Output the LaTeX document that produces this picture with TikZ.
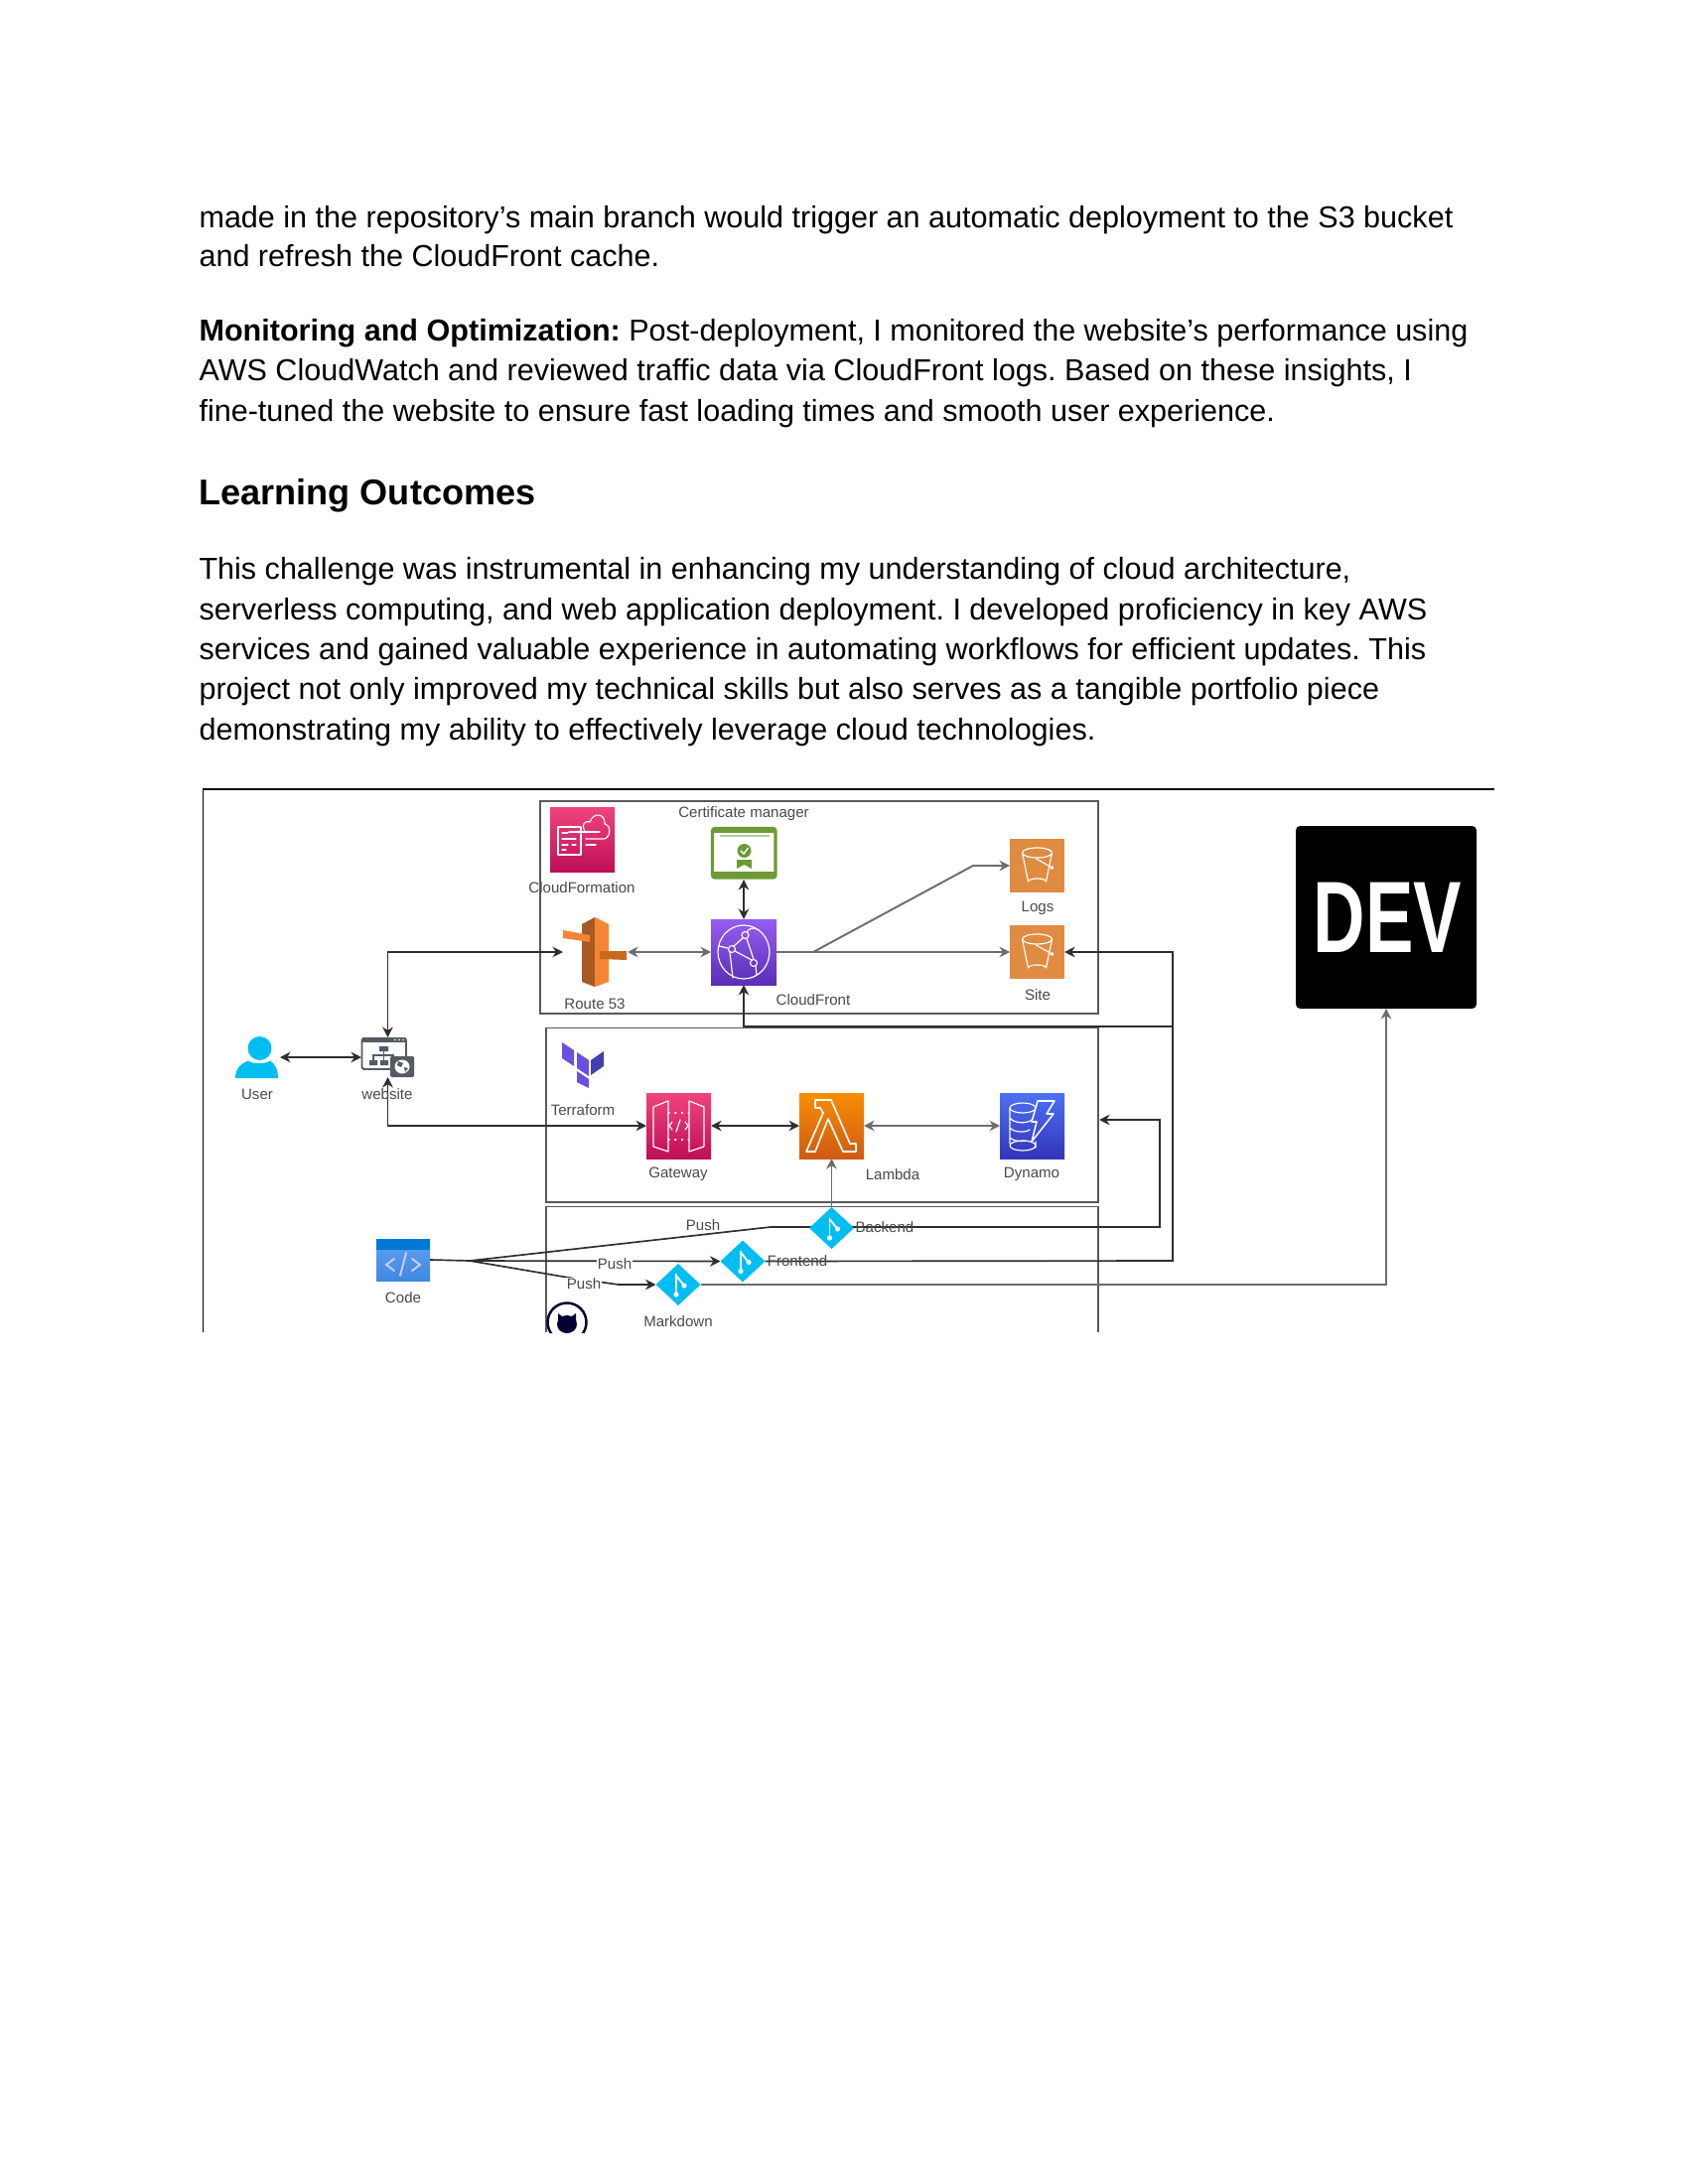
\documentclass[tikz,border=0pt]{standalone}
\usepackage{fontspec}
\usepackage{graphicx}
\setmainfont{Liberation Sans}
\frenchspacing
\usetikzlibrary{arrows.meta,shapes.geometric,calc}
\pgfdeclarelayer{paper}
\pgfdeclarelayer{bg}
\pgfsetlayers{paper,bg,main}
\def\pxu{0.005in}
\definecolor{pinkA}{HTML}{F0447C}\definecolor{pinkB}{HTML}{BE0F57}
\definecolor{orangeA}{HTML}{F78E04}\definecolor{orangeB}{HTML}{CF5A14}
\definecolor{blueA}{HTML}{4D72F3}\definecolor{blueB}{HTML}{3334B9}
\definecolor{purpA}{HTML}{945DF2}\definecolor{purpB}{HTML}{5A30B5}
\definecolor{bucketc}{HTML}{DF8C42}
\definecolor{gitc}{HTML}{00BEF0}
\definecolor{certc}{HTML}{6D9A35}
\definecolor{tfA}{HTML}{6A4FE0}\definecolor{tfB}{HTML}{4040B2}
\definecolor{labelc}{HTML}{4A4A4A}
\definecolor{linec}{HTML}{2E2E2E}
\definecolor{webc}{HTML}{545B64}
\definecolor{codeA}{HTML}{5EA0EF}\definecolor{codeB}{HTML}{3F88E0}\definecolor{codeT}{HTML}{0078D4}
\definecolor{r53D}{HTML}{A65A24}\definecolor{r53L}{HTML}{F58534}\definecolor{r53M}{HTML}{C8691F}
\tikzset{
 x=\pxu,y=-\pxu,
 >={Stealth[length=3.8pt,width=3.8pt]},
 bodytext/.style={anchor=base west,inner sep=0,font=\fontsize{11.05}{13}\selectfont,text=black},
 headtext/.style={anchor=base west,inner sep=0,font=\fontsize{13.05}{16}\selectfont\bfseries,text=black},
 lab/.style={inner sep=0,font=\fontsize{5.45}{7}\selectfont,text=labelc},
 conn/.style={draw=linec,line width=0.6pt},
 thinconn/.style={draw=linec!70,line width=0.7pt},
 boxline/.style={draw=black!65,line width=0.65pt},
 wl/.style={draw=white,line width=0.42pt,line join=round,line cap=round},
 gitnode/.style={shape=diamond,fill=gitc,inner sep=0,outer sep=0,minimum width=45*\pxu,minimum height=42*\pxu},
}
\newcommand\iconbox[6]{\pgfmathsetmacro\cxv{(#2+#4)/2}\pgfmathsetmacro\cyv{(#3+#5)/2}\pgfmathsetmacro\wv{#4-#2}\pgfmathsetmacro\hv{#5-#3}\node[inner sep=0,outer sep=0,minimum width=\wv*\pxu,minimum height=\hv*\pxu,#6](#1) at (\cxv,\cyv){};}
\newcommand\bucketglyph[2]{\begin{scope}[shift={(#1,#2)}]
 \draw[wl,fill=none] (0,-13) ellipse (15 and 5);
 \draw[wl] (-15,-13) -- (-9,16) arc[start angle=180,end angle=360,x radius=9,y radius=3] -- (15,-13);
 \draw[wl] (-1,-7) -- (15,2) circle (1.2);
\end{scope}}
\newcommand\gitglyph[2]{\begin{scope}[shift={(#1,#2)}]
 \draw[draw=white,line width=0.7pt] (-2,-11) -- (-2,10);
 \draw[draw=white,line width=0.7pt] (-2,-9) -- (6,1);
 \fill[white] (-2,10) circle (2.6) (6,1) circle (2.6) (-2,-2) circle (1.2);
\end{scope}}
\begin{document}
\begin{tikzpicture}
\useasboundingbox (0,0) rectangle (1700,2200);
\begin{pgfonlayer}{paper}
\fill[white] (0,0) rectangle (1700,2200);
\end{pgfonlayer}
% ---------- text
\node[bodytext] (t1) at (200,230) {made in the repository’s main branch would trigger an automatic deployment to the S3 bucket};
\node[bodytext] (t2) at (200,269) {and refresh the CloudFront cache.};
\node[bodytext] (t3) at (200,344) {\textbf{Monitoring and Optimization:} Post-deployment, I monitored the website’s performance using};
\node[bodytext] (t4) at (200,384) {AWS CloudWatch and reviewed traffic data via CloudFront logs. Based on these insights, I};
\node[bodytext] (t5) at (200,425) {fine-tuned the website to ensure fast loading times and smooth user experience.};
\node[headtext] (h1) at (200,509) {Learning Outcomes};
\node[bodytext] (t6) at (200,584) {This challenge was instrumental in enhancing my understanding of cloud architecture,};
\node[bodytext] (t7) at (200,625) {serverless computing, and web application deployment. I developed proficiency in key AWS};
\node[bodytext] (t8) at (200,665) {services and gained valuable experience in automating workflows for efficient updates. This};
\node[bodytext] (t9) at (200,705) {project not only improved my technical skills but also serves as a tangible portfolio piece};
\node[bodytext] (t10) at (200,746) {demonstrating my ability to effectively leverage cloud technologies.};
% ---------- icon nodes
\iconbox{cfn}{554}{813}{619}{878}{top color=pinkA,bottom color=pinkB}
\iconbox{r53}{567}{924}{632}{994}{}
\iconbox{cert}{716}{833}{782}{886}{}
\iconbox{cf}{716}{926}{782}{992}{top color=purpA,bottom color=purpB}
\iconbox{logs}{1017}{845}{1072}{899}{fill=bucketc}
\iconbox{sitebk}{1017}{932}{1072}{986}{fill=bucketc}
\iconbox{user}{237}{1044}{282}{1086}{}
\iconbox{web}{364}{1045}{417}{1085}{}
\iconbox{tf}{566}{1050}{608}{1096}{}
\iconbox{gw}{651}{1101}{716}{1167}{top color=pinkA,bottom color=pinkB}
\iconbox{lam}{805}{1101}{870}{1167}{top color=orangeA,bottom color=orangeB}
\iconbox{ddb}{1007}{1101}{1072}{1167}{top color=blueA,bottom color=blueB}
\iconbox{code}{379}{1248}{433}{1290}{top color=codeA,bottom color=codeB}
\iconbox{dev}{1305}{832}{1487}{1016}{fill=black,rounded corners=1.6pt}
\node[gitnode] (gback) at (837.5,1237) {};
\node[gitnode] (gfront) at (748,1270.5) {};
\node[gitnode] (gmark) at (683,1294) {};
\coordinate (fan) at (473,1270);
\coordinate (logsplit) at (819,959);
\coordinate (logselbow) at (980,872);
\coordinate (backelbow) at (776,1236);
\coordinate (backturn) at (1168,1236);
\coordinate (backtop) at (1168,1128);
\coordinate (boxin) at (1107,1128);
\coordinate (frontturn) at (1181,1270);
\coordinate (siteturn) at (1181,959);
\coordinate (cfjoin) at (1181,1034);
\coordinate (markelbow) at (623,1294);
\coordinate (markbend) at (573,1287);
\coordinate (devturn) at (1396,1294);
% ---------- frames and connectors underneath
\begin{pgfonlayer}{bg}
\draw[draw=black,line width=0.5pt] (204.5,1342) -- (204.5,795) -- (1505,795);
\draw[boxline] (544,807) rectangle (1106,1021);
\draw[boxline] (549.7,1035.5) rectangle (1106,1211);
\draw[boxline] (549.7,1342) -- (549.7,1215.5) -- (1106,1215.5) -- (1106,1342);
\draw[conn,<->] (user.east) -- (web.west);
\draw[conn,<->] (web.north) |- (r53.west);
\draw[conn,<->] (web.south) |- (gw.west);
\draw[thinconn,<->] (r53.east) -- (cf.west);
\draw[conn,<->] (cert.south) -- (cf.north);
\draw[thinconn,->] (cf.east) -- (sitebk.west);
\draw[thinconn,->] (logsplit) -- (logselbow) -- (logs.west);
\draw[conn,<->] (gw.east) -- (lam.west);
\draw[thinconn,<->] (lam.east) -- (ddb.west);
\draw[thinconn,->] (gback.north) -- (lam.south);
\draw[conn] (code.east) -- (fan);
\draw[conn,->] (fan) -- (backelbow) -- (backturn) -- (backtop) -- (boxin);
\draw[conn,->] (fan) -- (gfront.west);
\draw[conn,->] (gfront.east) -- (frontturn) -- (siteturn) -- (sitebk.east);
\draw[conn,->] (cfjoin) -| (cf.south);
\draw[conn,->] (fan) -- (markbend) -- (markelbow) -- (gmark.west);
\draw[thinconn,->] (gmark.east) -- (devturn) -- (dev.south);
\end{pgfonlayer}
% ---------- CloudFormation glyph
\draw[wl] (562,833) rectangle (585,861);
\draw[wl] (566,839) -- (572,839) (566,845) -- (580,845) (566,851) -- (572,851) (576,851) -- (580,851) (566,856) -- (570,856);
\draw[wl] (590,839) .. controls (584,830) and (590,826) .. (594,828) .. controls (598,817) and (610,820) .. (609,830) .. controls (617,832) and (614,845) .. (608,845) -- (590,845);
\draw[wl] (573,838) -- (604,838) (590,851) -- (600,851);
% ---------- Route 53
\fill[r53D] (586,931) -- (599,924) -- (599,994) -- (586,989) -- cycle;
\fill[r53L] (599,924) -- (613,931) -- (613,989) -- (599,994) -- cycle;
\fill[r53L] (567,937) -- (594,942) -- (594,949) -- (567,945) -- cycle;
\fill[r53M] (604,958) -- (631,958) -- (631,967) -- (604,966) -- cycle;
% ---------- Certificate
\draw[draw=certc,line width=1.1pt,fill=white,rounded corners=0.8pt] (717.5,834.5) rectangle (781,884);
\fill[certc] (717.5,878) rectangle (781,884);
\fill[certc] (717.5,834.5) rectangle (781,839);
\draw[draw=certc!50,line width=1pt] (725,842) -- (775,842);
\fill[certc] (742,866) -- (742,875) -- (749.5,871) -- (757,875) -- (757,866) -- cycle;
\fill[certc] (749.5,857) circle (7);
\draw[draw=white,line width=0.5pt] (746,857) -- (749,860) -- (753.5,854);
% ---------- CloudFront glyph
\draw[wl] (749,959) ellipse (26 and 27);
\draw[wl,fill=none] (750.5,942) circle (3.5) (737,956) circle (3.5) (759,970) circle (3.5);
\draw[wl] (748,945) -- (739,953) (740,958) -- (757,967) (752,945.5) -- (759,966.5);
\draw[wl] (735,959) -- (738,985) (761,973) -- (762,982) (752,939) .. controls (755,935) and (758,934) .. (762,936) (733,955) -- (724,953);
% ---------- Buckets
\bucketglyph{1044.5}{872}
\bucketglyph{1044.5}{959}
% ---------- User
\fill[gitc] (261.5,1056) ellipse (12 and 12);
\fill[gitc] (237,1086) .. controls (237,1076) and (243,1071) .. (250,1068.5) .. controls (254,1072) and (268,1072) .. (272,1068.5) .. controls (277,1071) and (280,1078) .. (280,1086) -- cycle;
% ---------- Website
\draw[draw=webc,line width=0.7pt,fill=white,rounded corners=0.6pt] (364.5,1046) rectangle (409,1077);
\fill[webc] (364.5,1045) rectangle (409,1050);
\fill[white] (398,1047.5) circle (0.9) (402,1047.5) circle (0.9) (406,1047.5) circle (0.9);
\fill[webc] (382,1054) rectangle (391,1059) (372,1068) rectangle (380,1073) (383,1068) rectangle (391,1073);
\draw[draw=webc,line width=0.45pt] (386.5,1059) -- (386.5,1068) (376,1068) -- (376,1063) -- (396,1063) -- (396,1067);
\fill[webc,rounded corners=0.5pt] (393,1064) rectangle (417,1085);
\fill[white] (405,1074.5) ellipse (7.5 and 7);
\fill[webc] (401,1069) -- (406,1071) -- (404,1075) -- (400,1073) -- cycle (407,1075) -- (411,1076) -- (408,1080) -- cycle;
% ---------- Terraform
\fill[tfA] (566,1050) -- (578,1058) -- (578,1074) -- (566,1066) -- cycle;
\fill[tfA] (581,1060) -- (593,1068) -- (593,1084) -- (581,1076) -- cycle;
\fill[tfB] (595,1068) -- (608,1059) -- (608,1074) -- (595,1083) -- cycle;
\fill[tfA] (581,1079) -- (593,1087) -- (593,1096) -- (581,1090) -- cycle;
% ---------- Gateway glyph
\draw[wl] (658,1115) -- (673,1109) -- (673,1160) -- (658,1155) -- cycle;
\draw[wl] (694,1109) -- (709,1115) -- (709,1155) -- (694,1160) -- cycle;
\draw[wl,dotted] (673,1121) -- (694,1121) (673,1148) -- (694,1148);
\draw[wl] (677,1130) -- (674,1134) -- (677,1138) (690,1130) -- (693,1134) -- (690,1138) (685,1128) -- (681,1140);
% ---------- Lambda glyph
\draw[wl,line width=0.6pt] (821,1108) -- (837,1108) -- (856,1152) -- (862,1152) -- (862,1160) -- (849,1160) -- (834,1127) -- (821,1160) -- (812,1160) -- (829,1121) -- (826,1116) -- (821,1116) -- cycle;
% ---------- Dynamo glyph
\draw[wl] (1030,1116) ellipse (13 and 5);
\draw[wl] (1017,1116) -- (1017,1152) (1017,1126) .. controls (1021,1132) and (1035,1132) .. (1039,1128) (1017,1136) .. controls (1021,1141) and (1033,1141) .. (1037,1138) (1017,1146) .. controls (1021,1150) and (1029,1150) .. (1033,1149);
\draw[wl] (1030,1154) ellipse (13 and 5) (1043,1150) -- (1043,1156);
\draw[wl,line width=0.55pt] (1045,1109) -- (1062,1109) -- (1054,1122) -- (1061,1122) -- (1039,1150) -- (1044,1130) -- (1039,1130) -- cycle;
% ---------- Code glyph
\fill[codeT] (379,1248) rectangle (433,1258.5);
\draw[draw=white!80!blue,line width=0.7pt,line cap=round] (397,1268) -- (389,1274) -- (397,1280) (415,1268) -- (423,1274) -- (415,1280) (409,1262) -- (403,1285);
% ---------- Git glyphs
\gitglyph{837.5}{1237}
\gitglyph{748}{1270.5}
\gitglyph{683}{1294}
% ---------- GitHub
\begin{scope}
\clip (540,1300) rectangle (600,1342);
\draw[draw=black!80!blue,line width=0.9pt] (571,1332) circle (19.5);
\fill[black!80!blue] (571,1334) ellipse (10 and 9);
\fill[black!80!blue] (562,1323) -- (562,1335) -- (569,1328) -- cycle (580,1323) -- (580,1335) -- (573,1328) -- cycle;
\end{scope}
% ---------- DEV text
\node[inner sep=0,text=white] (devtext) at ([xshift=1.5*\pxu]dev.center) {\scalebox{0.71}[1]{\fontsize{37}{40}\selectfont\bfseries DEV}};
% ---------- labels
\node[lab] (l1) at (586,894) {CloudFormation};
\node[lab] (l2) at (599,1011) {Route 53};
\node[lab] (l3) at (749,820) {Certificate manager};
\node[lab] (l4) at (819,1007) {CloudFront};
\node[lab] (l5) at (1045,915) {Logs};
\node[lab] (l6) at (1045,1002) {Site};
\node[lab] (l7) at (259,1102) {User};
\node[lab] (l8) at (390,1102) {website};
\node[lab] (l9) at (587,1118) {Terraform};
\node[lab] (l10) at (683,1183) {Gateway};
\node[lab] (l11) at (899,1183) {Lambda};
\node[lab] (l12) at (1039,1183) {Dynamo};
\node[lab] (l13) at (406,1307) {Code};
\node[lab] (l14) at (683,1331) {Markdown};
\node[lab] (l15) at (891,1236) {Backend};
\node[lab] (l16) at (803,1270) {Frontend};
\node[lab] (p1) at (708,1234) {Push};
\node[lab,fill=white,inner xsep=0.3pt] (p2) at (619,1273) {Push};
\node[lab,fill=white,inner xsep=0.3pt] (p3) at (588,1293) {Push};
\end{tikzpicture}
\end{document}
